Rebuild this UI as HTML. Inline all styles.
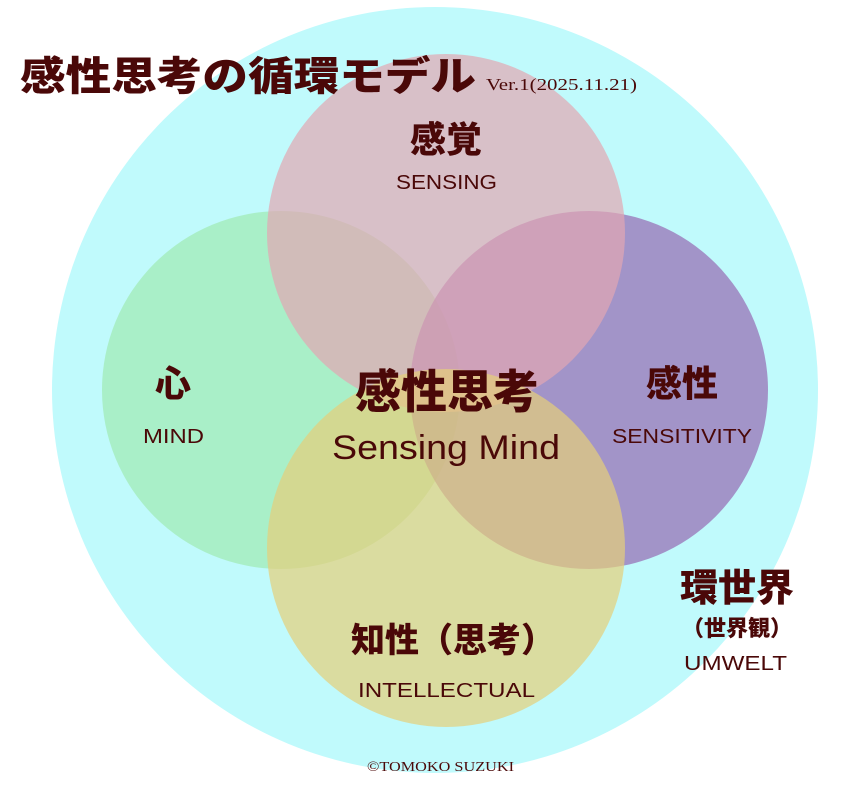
<!DOCTYPE html>
<html><head><meta charset="utf-8"><style>
body{margin:0;background:#fff;width:854px;height:792px;overflow:hidden}
svg text{fill:#4a0808}
.j{font-family:"Liberation Sans","Noto Sans CJK JP",sans-serif;font-weight:900}
.l{font-family:"Liberation Sans",sans-serif}
.s{font-family:"Liberation Serif",serif}
</style></head><body>
<svg width="854" height="792" xmlns="http://www.w3.org/2000/svg">
<circle cx="435" cy="390" r="383" fill="#c0fafc"/>
<circle cx="281" cy="390" r="179" fill="#a0e9b2" fill-opacity="0.7"/>
<circle cx="589" cy="390" r="179" fill="#9568b2" fill-opacity="0.7"/>
<circle cx="446" cy="233" r="179" fill="#e2a7b2" fill-opacity="0.7"/>
<circle cx="446" cy="548" r="179" fill="#e5cf79" fill-opacity="0.7"/>
<text class="j" x="20" y="90" font-size="40" textLength="456" lengthAdjust="spacingAndGlyphs">感性思考の循環モデル</text>
<text class="s" x="486" y="90" font-size="17" textLength="151" lengthAdjust="spacingAndGlyphs">Ver.1(2025.11.21)</text>
<text class="j" x="446" y="152" font-size="36" text-anchor="middle">感覚</text>
<text class="l" x="396" y="189" font-size="20" textLength="101" lengthAdjust="spacingAndGlyphs">SENSING</text>
<text class="j" x="173" y="396" font-size="36" text-anchor="middle">心</text>
<text class="l" x="143" y="443" font-size="20" textLength="61" lengthAdjust="spacingAndGlyphs">MIND</text>
<text class="j" x="682" y="396" font-size="36" text-anchor="middle">感性</text>
<text class="l" x="612" y="443" font-size="20" textLength="140" lengthAdjust="spacingAndGlyphs">SENSITIVITY</text>
<text class="j" x="447" y="408" font-size="46" text-anchor="middle">感性思考</text>
<text class="l" x="332" y="459" font-size="34" textLength="228" lengthAdjust="spacingAndGlyphs">Sensing Mind</text>
<text class="j" x="453" y="652" font-size="34" text-anchor="middle">知性（思考）</text>
<text class="l" x="358" y="697" font-size="20" textLength="177" lengthAdjust="spacingAndGlyphs">INTELLECTUAL</text>
<text class="j" x="737" y="601" font-size="38" text-anchor="middle">環世界</text>
<text class="j" x="737" y="636" font-size="22" text-anchor="middle">（世界観）</text>
<text class="l" x="684" y="670" font-size="20" textLength="103" lengthAdjust="spacingAndGlyphs">UMWELT</text>
<text class="s" x="367" y="771" font-size="14" textLength="147" lengthAdjust="spacingAndGlyphs">©TOMOKO SUZUKI</text>
</svg>
</body></html>
